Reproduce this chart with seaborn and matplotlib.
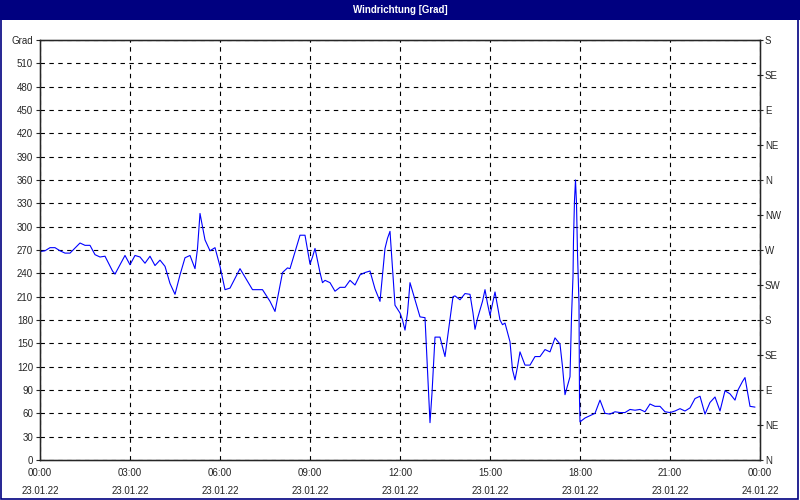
import pandas as pd
import numpy as np
import seaborn as sns
import matplotlib.pyplot as plt
import matplotlib.dates as mdates
from matplotlib.patches import Rectangle

# minutes after 23.01.22 00:00 and wind direction in degrees
minutes = [0, 10, 20, 30, 40, 50, 60, 80, 90, 100, 110, 120, 130, 145, 150, 170, 180, 190, 200, 210,
           220, 230, 240, 250, 260, 270, 280, 290, 300, 310, 315, 320, 330, 340, 350, 360, 370, 380,
           400, 425, 445, 460, 470, 485, 495, 500, 520, 530, 540, 545, 550, 560, 565, 570, 580, 590,
           600, 610, 620, 630, 640, 650, 660, 670, 680, 690, 695, 700, 705, 710, 720, 725, 730, 735,
           740, 750, 760, 770, 775, 780, 784, 790, 800, 810, 826, 830, 840, 850, 860, 866, 870, 875,
           885, 890, 895, 900, 905, 910, 920, 925, 930, 940, 945, 950, 955, 960, 970, 980, 990, 1000,
           1010, 1020, 1030, 1040, 1045, 1050, 1060, 1063, 1066, 1067, 1069, 1071, 1073, 1075, 1078,
           1079, 1080, 1090, 1110, 1120, 1130, 1140, 1150, 1160, 1170, 1180, 1190, 1200, 1210, 1220,
           1230, 1240, 1250, 1260, 1270, 1280, 1290, 1300, 1310, 1320, 1330, 1340, 1350, 1360, 1370,
           1380, 1390, 1396, 1405, 1410, 1420, 1430]
degrees = [268, 269, 273, 273, 269, 266, 266, 279, 276, 276, 264, 261, 262, 243, 239, 263, 251, 263, 261, 253,
           262, 250, 257, 249, 227, 213, 238, 260, 263, 246, 272, 317, 283, 269, 273, 249, 219, 221,
           246, 219, 219, 204, 191, 241, 247, 246, 289, 289, 252, 261, 272, 241, 228, 231, 228, 217,
           222, 222, 231, 225, 238, 241, 243, 220, 204, 272, 285, 294, 246, 199, 189, 180, 167, 189,
           228, 206, 184, 183, 116, 48, 86, 158, 158, 133, 210, 211, 206, 214, 213, 189, 168, 182,
           204, 219, 201, 186, 201, 216, 180, 174, 176, 152, 116, 103, 120, 139, 122, 122, 133, 133,
           142, 139, 157, 149, 120, 84, 107, 184, 236, 283, 334, 360, 330, 266, 201,
           79, 49, 54, 60, 77, 60, 59, 62, 61, 61, 65, 64, 65, 62, 72,
           69, 69, 62, 61, 63, 66, 63, 67, 79, 82, 59, 74, 81, 63, 89,
           85, 77, 90, 101, 106, 69, 68]

y_ticks = list(range(0, 541, 30))
y_labels = [str(v) for v in range(0, 511, 30)] + ['Grad']
compass = ['N', 'NE', 'E', 'SE', 'S', 'SW', 'W', 'NW', 'N', 'NE', 'E', 'SE', 'S']

start = pd.Timestamp('2022-01-23 00:00')
df = pd.DataFrame({'time': start + pd.to_timedelta(minutes, unit='m'), 'deg': degrees})

sns.set_style('white')
plt.rcParams['font.family'] = ['Liberation Sans', 'DejaVu Sans']
plt.rcParams['font.size'] = 7

fig = plt.figure(figsize=(8, 5), dpi=100)
fig.patch.set_facecolor('white')
ax = fig.add_axes([0.05, 0.08, 0.90, 0.84])

sns.lineplot(data=df, x='time', y='deg', color='#0000ff', linewidth=0.8, ax=ax)

ax.set_xlim(start, start + pd.Timedelta(hours=24))
ax.set_ylim(0, 540)
ax.set_xlabel('')
ax.set_ylabel('')

ax.xaxis.set_major_locator(mdates.HourLocator(byhour=range(0, 24, 3)))
ax.xaxis.set_minor_locator(mdates.HourLocator())
ax.xaxis.set_major_formatter(mdates.DateFormatter('%H:%M\n%d.%m.%y'))
ax.tick_params(axis='x', which='both', direction='out', length=4, width=0.8, color='black',
               labelsize=7, pad=2)
for lbl in ax.get_xticklabels():
    lbl.set_linespacing(2.0)

ax.set_yticks(y_ticks)
ax.set_yticklabels(y_labels)
ax.tick_params(axis='y', direction='out', length=3, width=0.8, labelsize=7, pad=2)

ax.grid(True, which='major', color='black', linestyle=(0, (4, 4)), linewidth=0.8)
for sp in ax.spines.values():
    sp.set_color('black')
    sp.set_linewidth(1.0)

ax2 = ax.twinx()
ax2.set_ylim(0, 540)
ax2.set_yticks(list(range(0, 541, 45)))
ax2.set_yticklabels(compass)
ax2.tick_params(axis='y', direction='inout', length=5, width=0.8, labelsize=7, pad=1)
ax2.grid(False)

# title bar and window frame
fig.patches.append(Rectangle((0, 0.96), 1, 0.04, transform=fig.transFigure,
                             facecolor='#000080', edgecolor='none', zorder=0))
fig.patches.append(Rectangle((0.001, 0.002), 0.997, 0.996, transform=fig.transFigure,
                             facecolor='none', edgecolor='#000080', linewidth=1.2, zorder=5))
fig.text(0.5, 0.98, 'Windrichtung [Grad]', color='white', fontsize=7, fontweight='bold',
         ha='center', va='center')

fig.savefig('out.png', dpi=100)
